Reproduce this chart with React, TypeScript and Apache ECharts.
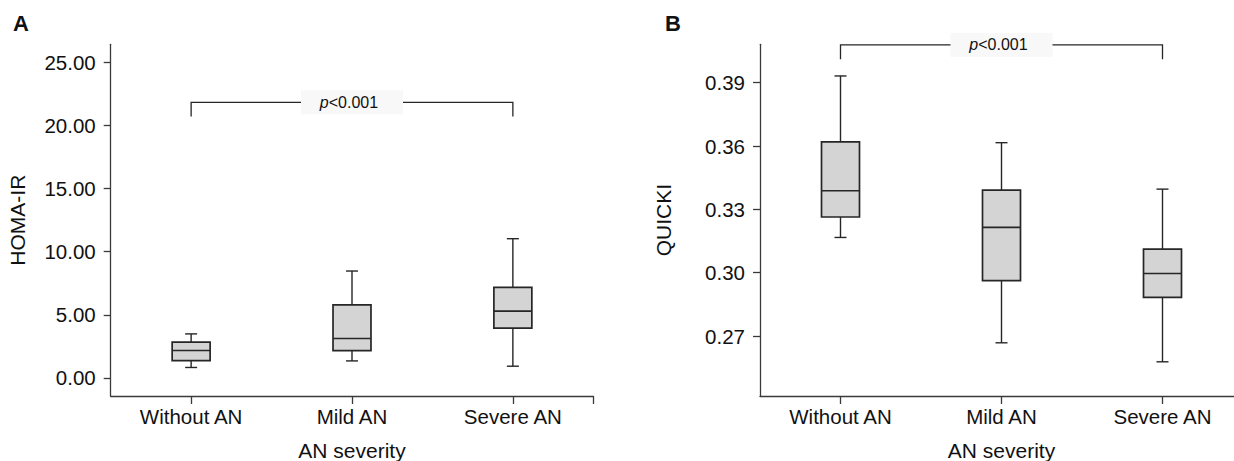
import React, { useEffect, useRef } from "react";
import * as echarts from "echarts";

const categories = ["Without AN", "Mild AN", "Severe AN"];
const categoryIndex = [0, 1, 2];

// HOMA-IR box plot values (whisker low, Q1, median, Q3, whisker high)
const homaLow = [0.83, 1.35, 0.93];
const homaQ1 = [1.38, 2.17, 3.94];
const homaMedian = [2.17, 3.13, 5.29];
const homaQ3 = [2.83, 5.79, 7.17];
const homaHigh = [3.49, 8.47, 11.03];
const homaTicks = [0, 5, 10, 15, 20, 25];
const homaRange = [-1.43, 26.43];
const homaBracket = [21.83, 20.71];

// QUICKI box plot values
const quickiLow = [0.3167, 0.2668, 0.2578];
const quickiQ1 = [0.3264, 0.2963, 0.2883];
const quickiMedian = [0.3388, 0.3215, 0.2996];
const quickiQ3 = [0.362, 0.3391, 0.3112];
const quickiHigh = [0.3932, 0.3616, 0.3396];
const quickiTicks = [0.27, 0.3, 0.33, 0.36, 0.39];
const quickiRange = [0.2416, 0.4082];
const quickiBracket = [0.4079, 0.4011];

const pText = "<0.001";
const FONT = "'Liberation Sans', Arial, Helvetica, sans-serif";
const INK = "#111111";
const AXIS = "#3a3a3a";
const BOXLINE = "#262626";

function rows(lo: number[], q1: number[], md: number[], q3: number[], hi: number[]) {
  return categoryIndex.map((i) => [i, lo[i], q1[i], md[i], q3[i], hi[i]]);
}

function renderBox(params: any, api: any) {
  const x = api.value(0);
  const pLo = api.coord([x, api.value(1)]);
  const pQ1 = api.coord([x, api.value(2)]);
  const pMd = api.coord([x, api.value(3)]);
  const pQ3 = api.coord([x, api.value(4)]);
  const pHi = api.coord([x, api.value(5)]);
  const band = api.size([1, 0])[0];
  const bw = band * 0.236;
  const cw = 12;
  const cx = pMd[0];
  const ls = { stroke: BOXLINE, lineWidth: 1.4 };
  return {
    type: "group",
    children: [
      { type: "line", shape: { x1: cx, y1: pHi[1], x2: cx, y2: pQ3[1] }, style: ls },
      { type: "line", shape: { x1: cx, y1: pQ1[1], x2: cx, y2: pLo[1] }, style: ls },
      { type: "line", shape: { x1: cx - cw / 2, y1: pHi[1], x2: cx + cw / 2, y2: pHi[1] }, style: ls },
      { type: "line", shape: { x1: cx - cw / 2, y1: pLo[1], x2: cx + cw / 2, y2: pLo[1] }, style: ls },
      {
        type: "rect",
        shape: { x: cx - bw / 2, y: pQ3[1], width: bw, height: pQ1[1] - pQ3[1] },
        style: { fill: "#d4d4d4", stroke: BOXLINE, lineWidth: 1.7 },
      },
      { type: "line", shape: { x1: cx - bw / 2, y1: pMd[1], x2: cx + bw / 2, y2: pMd[1] }, style: { stroke: BOXLINE, lineWidth: 1.6 } },
    ],
  };
}

function renderBracket(params: any, api: any) {
  const x0 = api.value(0);
  const x1 = api.value(1);
  const yt = api.value(2);
  const yb = api.value(3);
  const a = api.coord([x0, yb]);
  const b = api.coord([x0, yt]);
  const c = api.coord([x1, yt]);
  const d = api.coord([x1, yb]);
  const mid = api.coord([(x0 + x1) / 2, yt]);
  const w = 102;
  const h = 24;
  return {
    type: "group",
    children: [
      {
        type: "polyline",
        shape: { points: [a, b, c, d] },
        style: { stroke: BOXLINE, lineWidth: 1.3, fill: "none" },
      },
      {
        type: "rect",
        shape: { x: mid[0] - w / 2, y: mid[1] - h / 2, width: w, height: h },
        style: { fill: "#f8f8f8" },
      },
      {
        type: "text",
        style: {
          x: mid[0] - 3,
          y: mid[1],
          text: "{i|p}" + pText,
          rich: { i: { fontStyle: "italic", fontSize: 16, fontFamily: FONT, fill: INK } },
          fontSize: 16,
          fontFamily: FONT,
          fill: INK,
          align: "center",
          verticalAlign: "middle",
        },
      },
    ],
  };
}

function xAxisFor(gridIndex: number) {
  return {
    gridIndex,
    type: "value",
    min: -0.5,
    max: 2.5,
    axisLine: { show: true, onZero: false, lineStyle: { color: AXIS, width: 1.3 } },
    axisTick: { show: true, customValues: [0, 1, 2, 2.5], length: 8, lineStyle: { color: AXIS, width: 1.3 } },
    axisLabel: {
      show: true,
      customValues: categoryIndex,
      formatter: (v: number) => categories[Math.round(v)],
      fontSize: 20.5,
      fontFamily: FONT,
      color: INK,
      margin: 10,
    },
    splitLine: { show: false },
    name: "AN severity",
    nameLocation: "middle",
    nameGap: 44,
    nameTextStyle: { fontSize: 21, fontFamily: FONT, color: INK },
  };
}

function yAxisFor(gridIndex: number, name: string, range: number[], ticks: number[], gap: number) {
  return {
    gridIndex,
    type: "value",
    min: range[0],
    max: range[1],
    axisLine: { show: true, onZero: false, lineStyle: { color: AXIS, width: 1.3 } },
    axisTick: { show: true, customValues: ticks, length: 7, lineStyle: { color: AXIS, width: 1.3 } },
    axisLabel: {
      show: true,
      customValues: ticks,
      formatter: (v: number) => v.toFixed(2),
      fontSize: 20.5,
      fontFamily: FONT,
      color: INK,
      margin: 15,
    },
    splitLine: { show: false },
    name,
    nameLocation: "middle",
    nameGap: gap,
    nameTextStyle: { fontSize: 21, fontFamily: FONT, color: INK },
  };
}

export default function App() {
  const ref = useRef<HTMLDivElement>(null);
  useEffect(() => {
    if (!ref.current) return;
    const chart = echarts.init(ref.current, undefined, { renderer: "svg" });
    chart.setOption({
      animation: false,
      backgroundColor: "#ffffff",
      title: [
        { text: "A", left: 13, top: 12, padding: 0, textStyle: { fontSize: 22, fontWeight: "bold", fontFamily: FONT, color: INK } },
        { text: "B", left: 665, top: 12, padding: 0, textStyle: { fontSize: 22, fontWeight: "bold", fontFamily: FONT, color: INK } },
      ],
      grid: [
        { left: 110.7, right: 640.7, top: 44.3, bottom: 65, containLabel: false, outerBoundsMode: "none" },
        { left: 760, right: -9, top: 44.3, bottom: 65, containLabel: false, outerBoundsMode: "none" },
      ],
      xAxis: [xAxisFor(0), xAxisFor(1)],
      yAxis: [
        yAxisFor(0, "HOMA-IR", homaRange, homaTicks, 83),
        yAxisFor(1, "QUICKI", quickiRange, quickiTicks, 86),
      ],
      series: [
        {
          type: "custom",
          xAxisIndex: 0,
          yAxisIndex: 0,
          renderItem: renderBox,
          encode: { x: 0, y: [1, 2, 3, 4, 5] },
          data: rows(homaLow, homaQ1, homaMedian, homaQ3, homaHigh),
          clip: false,
        },
        {
          type: "custom",
          xAxisIndex: 1,
          yAxisIndex: 1,
          renderItem: renderBox,
          encode: { x: 0, y: [1, 2, 3, 4, 5] },
          data: rows(quickiLow, quickiQ1, quickiMedian, quickiQ3, quickiHigh),
          clip: false,
        },
        {
          type: "custom",
          xAxisIndex: 0,
          yAxisIndex: 0,
          renderItem: renderBracket,
          encode: { x: [0, 1], y: [2, 3] },
          data: [[0, 2, homaBracket[0], homaBracket[1]]],
          clip: false,
        },
        {
          type: "custom",
          xAxisIndex: 1,
          yAxisIndex: 1,
          renderItem: renderBracket,
          encode: { x: [0, 1], y: [2, 3] },
          data: [[0, 2, quickiBracket[0], quickiBracket[1]]],
          clip: false,
        },
      ],
    });
    return () => chart.dispose();
  }, []);
  return (
    <div
      ref={ref}
      style={{ position: "fixed", left: 0, top: 0, width: 1234, height: 461, background: "#fff" }}
    />
  );
}
